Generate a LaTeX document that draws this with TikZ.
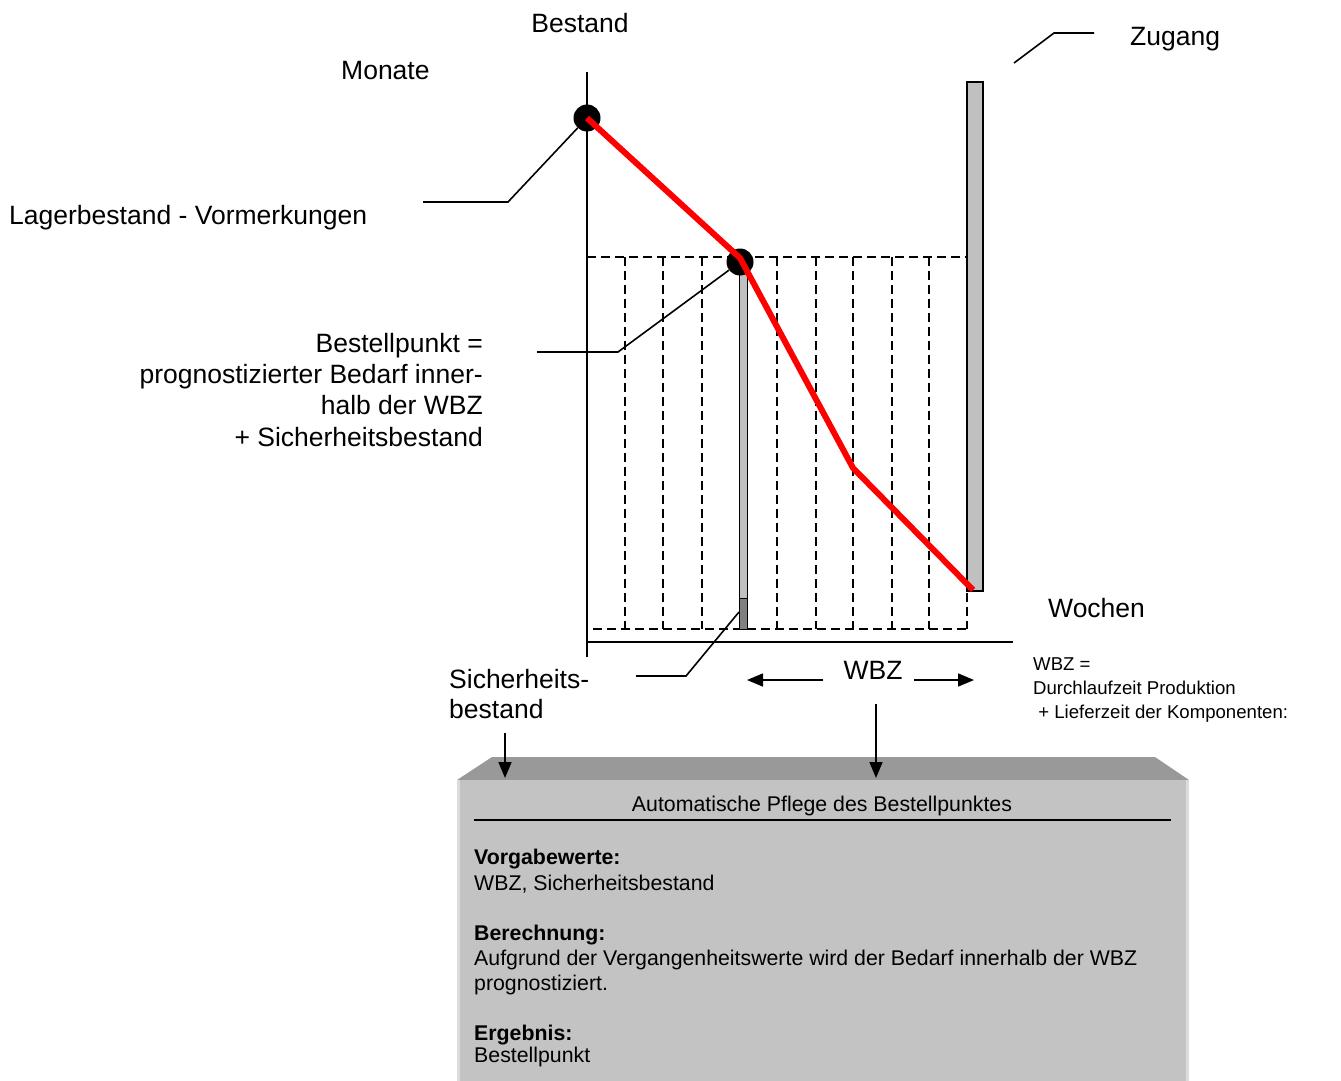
\documentclass[tikz,border=0pt]{standalone}
\usepackage{fontspec}
\setmainfont{Liberation Sans}
\usetikzlibrary{arrows.meta}
\definecolor{barGrey}{HTML}{C0C0C0}
\definecolor{darkGrey}{HTML}{808080}
\definecolor{bevelGrey}{HTML}{999999}
\definecolor{boxGrey}{HTML}{C3C3C3}
\definecolor{edgeGrey}{HTML}{DCDCDC}
\definecolor{lineRed}{HTML}{FF0000}
\begin{document}
\begin{tikzpicture}[x=1pt,y=-1pt,
  big/.style={font=\fontsize{26.5}{31}\selectfont, inner sep=0pt},
  mid/.style={font=\fontsize{21.3}{25}\selectfont, inner sep=0pt},
  small/.style={font=\fontsize{18.6}{22}\selectfont, inner sep=0pt},
  gridline/.style={line width=1.4pt, dash pattern=on 9pt off 5pt},
  axisline/.style={line width=2pt},
  leader/.style={line width=1.6pt},
  redline/.style={line width=6pt, lineRed, line join=round},
  dot/.style={circle, fill=black, minimum size=27pt, inner sep=0pt},
  arr/.style={line width=1.6pt, -{Triangle[length=16pt, width=13pt]}},
  barbox/.style={draw=black, line width=1.4pt, fill=barGrey}
]
\useasboundingbox (0,0) rectangle (1341,1081);

% dashed grid
\draw[gridline] (587,257) -- (967,257);
\draw[gridline] (593,629) -- (967,629);
\foreach \gx in {625,663,702,777,816,853,892,929,967}
  \draw[gridline] (\gx,257) -- (\gx,629);

% bars
\draw[barbox] (967,82) rectangle (983,591);
\draw[barbox, line width=1pt] (739,262) rectangle (747,629);
\draw[draw=black, line width=1pt, fill=darkGrey] (739,598) rectangle (747,629);
\coordinate (sbtop) at (739,612);

% axes
\draw[axisline] (587,72) -- (587,657);
\draw[axisline] (587,642) -- (1013,642);

% dots
\node[dot] (d1) at (587,118) {};
\node[dot] (d2) at (740,262) {};

% leaders
\draw[leader] (423,202) -- (508,202) -- (d1);
\draw[leader] (537,352) -- (618,352) -- (d2);
\draw[leader] (636,676) -- (686,676) -- (sbtop);
\draw[leader] (1014,63) -- (1054,33) -- (1094,33);

% red line
\coordinate (r2) at (740,258);
\coordinate (r3) at (853,468);
\coordinate (r4) at (973,590);
\draw[redline] (d1.center) -- (r2) -- (r3) -- (r4);

% labels
\node[big, anchor=base] (bestand) at (580,33) {Bestand};
\node[big, anchor=base west] (monate) at (341,79) {Monate};
\node[big, anchor=base west] (zugang) at (1130,46) {Zugang};
\node[big, anchor=base west] (lager) at (9,224) {Lagerbestand - Vormerkungen};
\node[big, anchor=base east, align=right, font=\fontsize{26.5}{31.3}\selectfont] (bp) at (483,446)
  {Bestellpunkt =\\prognostizierter Bedarf inner-\\halb der WBZ\\+ Sicherheitsbestand};
\node[big, anchor=base west] (wochen) at (1048,617) {Wochen};
\node[big, anchor=base west, align=left, font=\fontsize{26.5}{30}\selectfont] (sich) at (449,718) {Sicherheits-\\bestand};
\node[big, anchor=base] (wbz) at (873,679) {WBZ};
\node[small, anchor=base west, align=left, font=\fontsize{18.6}{24}\selectfont] (wbzdef) at (1033,718)
  {WBZ =\\Durchlaufzeit Produktion\\\ + Lieferzeit der Komponenten:};

% WBZ arrows
\coordinate (wl1) at (823,680);
\coordinate (wl2) at (747,680);
\coordinate (wr1) at (914,680);
\coordinate (wr2) at (974,680);
\draw[arr] (wl1) -- (wl2);
\draw[arr] (wr1) -- (wr2);

% box
\fill[bevelGrey] (492,757) -- (1155,757) -- (1189,780) -- (457,780) -- cycle;
\fill[boxGrey] (457,780) rectangle (1189,1081);
\fill[edgeGrey] (457,780) rectangle (460,1081);
\fill[edgeGrey] (1186,780) rectangle (1189,1081);
\node[mid, anchor=base] (title) at (822,811) {Automatische Pflege des Bestellpunktes};
\draw[line width=2pt] (474,820) -- (1171,820);
\node[mid, anchor=base west, font=\fontsize{21.3}{25}\selectfont\bfseries] (t1) at (474,864) {Vorgabewerte:};
\node[mid, anchor=base west] (t2) at (474,890) {WBZ, Sicherheitsbestand};
\node[mid, anchor=base west, font=\fontsize{21.3}{25}\selectfont\bfseries] (t3) at (474,940) {Berechnung:};
\node[mid, anchor=base west, align=left] (t4) at (474,990) {Aufgrund der Vergangenheitswerte wird der Bedarf innerhalb der WBZ\\prognostiziert.};
\node[mid, anchor=base west, font=\fontsize{21.3}{25}\selectfont\bfseries] (t5) at (474,1040) {Ergebnis:};
\node[mid, anchor=base west] (t6) at (474,1062) {Bestellpunkt};

% down arrows
\coordinate (a1s) at (505,733);
\coordinate (a1e) at (505,778);
\coordinate (a2s) at (876,704);
\coordinate (a2e) at (876,778);
\draw[arr] (a1s) -- (a1e);
\draw[arr] (a2s) -- (a2e);
\end{tikzpicture}
\end{document}
